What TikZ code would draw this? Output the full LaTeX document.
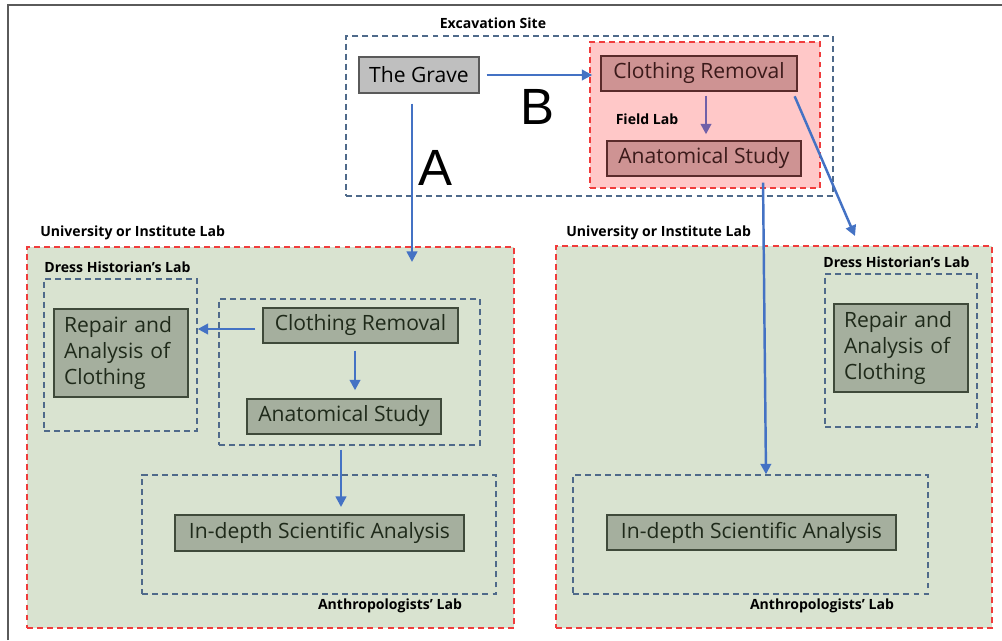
\documentclass[tikz,border=0pt]{standalone}
\usepackage{fontspec}
\setmainfont{Open Sans}
\newfontfamily\letterfont{Liberation Sans}
\usetikzlibrary{arrows.meta,fit,positioning}
\definecolor{arrowblue}{HTML}{4472C4}
\definecolor{arrowpurple}{HTML}{7060A8}
\definecolor{dashblue}{HTML}{4F6A8A}
\definecolor{dashred}{HTML}{F03C3C}
\definecolor{labgreen}{HTML}{D9E3D0}
\definecolor{boxgreen}{HTML}{A5AF9E}
\definecolor{boxline}{HTML}{3F4A3A}
\definecolor{boxtext}{HTML}{1F2A1A}
\definecolor{fieldpink}{HTML}{FFC8C8}
\definecolor{itempink}{HTML}{CE9393}
\definecolor{itemline}{HTML}{5A2B2B}
\definecolor{itemtext}{HTML}{3B1A1A}
\definecolor{gravegray}{HTML}{BFBFBF}
\definecolor{frameline}{HTML}{5A5A5A}

\begin{document}
\begin{tikzpicture}
[x=0.02cm, y=-0.02cm,
 frame/.style={draw=frameline, line width=1.1pt},
 site box/.style={draw=dashblue, line width=0.75pt, dash pattern=on 3.4pt off 2.3pt, inner sep=0pt},
 field box/.style={draw=dashred, fill=fieldpink, line width=0.75pt, dash pattern=on 3.4pt off 2.3pt, inner sep=0pt},
 univ box/.style={draw=dashred, fill=labgreen, line width=0.75pt, dash pattern=on 3.4pt off 2.3pt, inner sep=0pt},
 lab box/.style={draw=dashblue, line width=0.75pt, dash pattern=on 3.4pt off 2.3pt, inner sep=0pt},
 box/.style={draw=boxline, fill=boxgreen, line width=0.8pt, text=boxtext, inner sep=0pt, font=\fontsize{12}{14.7}\selectfont},
 grave box/.style={box, draw=frameline, fill=gravegray, text=black},
 field item/.style={box, draw=itemline, fill=itempink, text=itemtext},
 repair box/.style={box, text width=2.28cm, align=left, inner xsep=0.2cm, minimum height=1.76cm},
 tag/.style={font=\bfseries\fontsize{8}{9}\selectfont, inner sep=0pt},
 big letter/.style={font=\letterfont\fontsize{29}{30}\selectfont, inner sep=0pt},
 flow/.style={draw=arrowblue, line width=1.4pt, -{Triangle[length=6pt,width=6pt]}}]

\useasboundingbox (0,0) rectangle (1002,640);
\draw[frame] (8,640) -- (8,5) -- (1002,5);

% excavation site
\node[site box, fit={(346,36) (833,196)}] (site) {};
\node[tag] (sitetag) at (493,23) {Excavation Site};
\node[field box, fit={(590,42) (820,188)}] (field) {};
\node[tag] (fieldtag) at (647,119) {Field Lab};

\node[grave box, minimum width=2.4cm, minimum height=0.72cm] (grave) at (419,75) {The Grave};
\node[field item, minimum width=3.92cm, minimum height=0.7cm] (fcr) at (699,73.5) {Clothing Removal};
\node[field item, minimum width=3.88cm, minimum height=0.7cm] (fas) at (704,158.5) {Anatomical Study};

\node[big letter] (bmark) at (537,107) {B};
\node[big letter] (amark) at (435,168) {A};

% university lab, route A
\node[univ box, fit={(27,247) (514,628)}] (luniv) {};
\node[tag, anchor=west] (lunivtag) at (40,233) {University or Institute Lab};
\node[lab box, fit={(44,279) (197,431)}] (ldress) {};
\node[tag, anchor=west] (ldresstag) at (44,267) {Dress Historian’s Lab};
\node[lab box, fit={(219,299) (480,445)}] (linner) {};
\node[lab box, fit={(142,475) (496,594)}] (lant) {};
\node[tag] (lanttag) at (390,606) {Anthropologists’ Lab};

\node[repair box] (lrep) at (121,353) {\mbox{Repair and}\\\mbox{Analysis of}\\Clothing};
\node[box, minimum width=3.9cm, minimum height=0.7cm] (lcr) at (360.5,325.5) {Clothing Removal};
\node[box, minimum width=3.88cm, minimum height=0.7cm] (las) at (344,416.5) {Anatomical Study};
\node[box, minimum width=5.78cm, minimum height=0.72cm] (lind) at (319.5,533) {In-depth Scientific Analysis};

% university lab, route B
\node[univ box, fit={(556,246) (992,628)}] (runiv) {};
\node[tag, anchor=west] (runivtag) at (566,233) {University or Institute Lab};
\node[lab box, fit={(825,274) (977,427)}] (rdress) {};
\node[tag, anchor=west] (rdresstag) at (823,262) {Dress Historian’s Lab};
\node[lab box, fit={(573,475) (928,594)}] (rant) {};
\node[tag] (ranttag) at (822,606) {Anthropologists’ Lab};

\node[repair box] (rrep) at (901,348) {\mbox{Repair and}\\\mbox{Analysis of}\\Clothing};
\node[box, minimum width=5.78cm, minimum height=0.7cm] (rind) at (751.5,532.5) {In-depth Scientific Analysis};

\coordinate (aend) at (412,262);
\coordinate (dend) at (855,236);
\coordinate (lantend) at (341,507);

\draw[flow, shorten <=0.14cm, shorten >=0.16cm] (grave.east) -- (grave.east -| fcr.west);
\draw[flow, shorten <=0.2cm] (aend |- grave.south) -- (aend);
\draw[flow, draw=arrowpurple, shorten <=0.08cm, shorten >=0.12cm] ([xshift=0.14cm]fcr.south) -- ([xshift=0.14cm]fcr.south |- fas.north);
\draw[flow, shorten <=0.1cm] ([xshift=-0.1cm]fcr.south east) -- (dend);
\draw[flow, shorten <=0.12cm] ([xshift=1.18cm]fas.south) -- ([xshift=0.31cm]rant.north);

\draw[flow, shorten <=0.14cm] ([yshift=-0.07cm]lcr.west) -- ([yshift=-0.07cm]lcr.west -| ldress.east);
\draw[flow, shorten <=0.14cm, shorten >=0.16cm] ([xshift=-0.11cm]lcr.south) -- ([xshift=-0.11cm]lcr.south |- las.north);
\draw[flow, shorten <=0.08cm] (lantend |- linner.south) -- (lantend);
\end{tikzpicture}
\end{document}
